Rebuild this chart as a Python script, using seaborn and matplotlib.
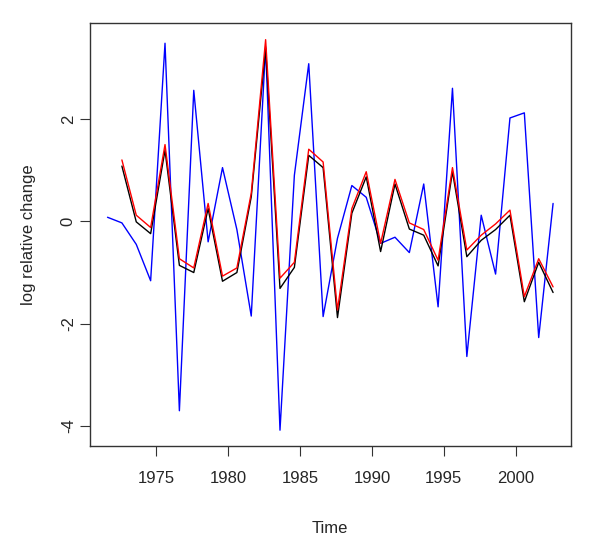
import numpy as np
import pandas as pd
import matplotlib
matplotlib.use("Agg")
import matplotlib.pyplot as plt
import seaborn as sns

# annual series, observations dated mid-year
years_obs = [1971.6 + i for i in range(32)]
years_fit = years_obs[1:]

observed = [0.08, -0.03, -0.45, -1.16, 3.48, -3.70, 2.56, -0.40, 1.05, -0.16,
            -1.85, 3.41, -4.08, 0.90, 3.08, -1.86, -0.33, 0.70, 0.47, -0.43,
            -0.31, -0.61, 0.73, -1.67, 2.60, -2.64, 0.12, -1.03, 2.02, 2.12,
            -2.27, 0.35]

fit_black = [1.08, -0.01, -0.24, 1.39, -0.86, -1.00, 0.25, -1.17, -1.00, 0.48,
             3.38, -1.31, -0.90, 1.29, 1.05, -1.88, 0.16, 0.87, -0.59, 0.73,
             -0.15, -0.27, -0.87, 0.97, -0.69, -0.37, -0.16, 0.12, -1.57, -0.80,
             -1.39]

fit_red = [1.20, 0.12, -0.12, 1.50, -0.73, -0.91, 0.35, -1.07, -0.91, 0.55,
           3.55, -1.11, -0.80, 1.41, 1.16, -1.73, 0.25, 0.97, -0.43, 0.82,
           -0.03, -0.16, -0.76, 1.05, -0.56, -0.27, -0.05, 0.22, -1.47, -0.73,
           -1.28]

df = pd.concat([
    pd.DataFrame({"Time": years_obs, "value": observed, "series": "observed"}),
    pd.DataFrame({"Time": years_fit, "value": fit_black, "series": "fit1"}),
    pd.DataFrame({"Time": years_fit, "value": fit_red, "series": "fit2"}),
])

sns.set_style("white")
plt.rcParams["font.family"] = ["Liberation Sans", "DejaVu Sans"]

fig = plt.figure(figsize=(6.0, 5.38), dpi=100)
ax = fig.add_axes([0.1495, 0.171, 0.802, 0.786])

sns.lineplot(data=df, x="Time", y="value", hue="series",
             palette={"observed": "#0000ff", "fit1": "#000000", "fit2": "#ff0000"},
             estimator=None, sort=False, linewidth=1.0, legend=False, ax=ax)

ax.set_xlim(1970.36, 2003.84)
ax.set_ylim(-4.389, 3.873)
ax.set_xticks([1975, 1980, 1985, 1990, 1995, 2000])
ax.set_yticks([-4, -2, 0, 2])
ax.set_yticklabels(["-4", "-2", "0", "2"], rotation=90, va="center")

ax.tick_params(axis="both", direction="out", length=7, width=0.8,
               color="#333333", labelsize=12, left=True, bottom=True)
ax.tick_params(axis="x", pad=11)
ax.tick_params(axis="y", pad=3)

for s in ax.spines.values():
    s.set_color("#333333")
    s.set_linewidth(1.0)

ax.set_xlabel("Time", fontsize=12, labelpad=25)
ax.set_ylabel("log relative change", fontsize=12, labelpad=18)

fig.savefig("out.png", dpi=100)
